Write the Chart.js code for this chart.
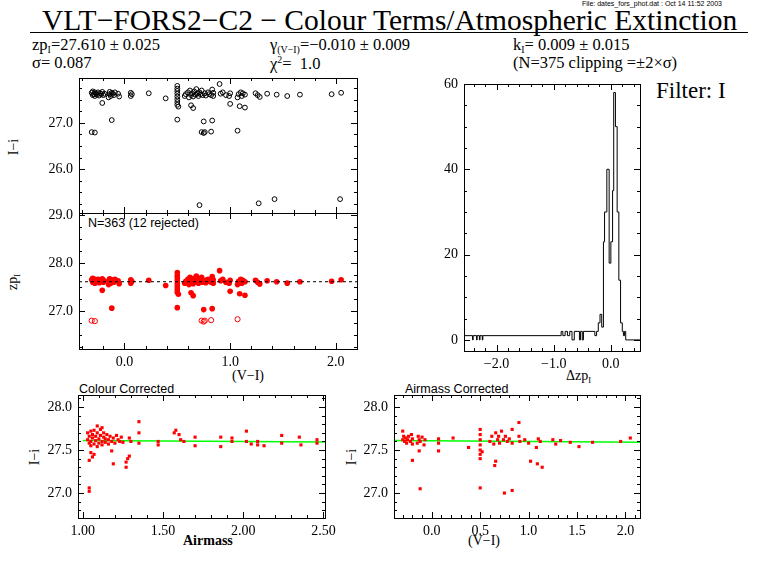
<!DOCTYPE html>
<html><head><meta charset="utf-8">
<script src="https://cdn.jsdelivr.net/npm/chart.js@4/dist/chart.umd.min.js"></script>
<style>
body{margin:0;background:#fff;width:768px;height:574px;position:relative;overflow:hidden;font-family:"Liberation Serif","DejaVu Serif",serif;color:#000}
.t{position:absolute;white-space:nowrap;line-height:1}
canvas{position:absolute}
sub{font-size:60%;vertical-align:-0.35em}
sup{font-size:60%;vertical-align:0.6em}
</style></head><body>
<div class="t" style="left:582px;top:0px;font:7px 'Liberation Sans',sans-serif">File: dates_fors_phot.dat : Oct 14 11:52 2003</div>
<div class="t" style="left:42px;top:6px;font-size:29.5px">VLT−FORS2−C2 − Colour Terms/Atmospheric Extinction</div>
<div style="position:absolute;left:30px;top:32px;width:718px;height:1px;background:#000"></div>
<div class="t" style="left:32px;top:37px;font-size:16.5px">zp<sub>I</sub>=27.610 ± 0.025</div>
<div class="t" style="left:32px;top:55px;font-size:16.5px">σ= 0.087</div>
<div class="t" style="left:270px;top:37px;font-size:16.5px">γ<sub>(V−I)</sub>=−0.010 ± 0.009</div>
<div class="t" style="left:270px;top:55px;font-size:16.5px">χ<sup>2</sup>=&nbsp; 1.0</div>
<div class="t" style="left:513px;top:37px;font-size:16.5px">k<sub>I</sub>= 0.009 ± 0.015</div>
<div class="t" style="left:513px;top:55px;font-size:16.5px">(N=375 clipping =±2×σ)</div>
<div class="t" style="left:656px;top:79px;font-size:23px">Filter: I</div>
<div class="t" style="left:88px;top:216px;font:12.5px 'Liberation Sans',sans-serif">N=363 (12 rejected)</div>
<div class="t" style="left:79px;top:382px;font:12.5px 'Liberation Sans',sans-serif">Colour Corrected</div>
<div class="t" style="left:405px;top:382px;font:12.5px 'Liberation Sans',sans-serif">Airmass Corrected</div>
<div class="t" style="left:232px;top:369px;font-size:14px">(V−I)</div>
<div class="t" style="left:566px;top:369px;font-size:14px">Δzp<sub>I</sub></div>
<div class="t" style="left:183px;top:534px;font-size:14px;font-weight:bold">Airmass</div>
<div class="t" style="left:468px;top:534px;font-size:14px">(V−I)</div>
<div class="t" style="left:14px;top:147px;font-size:14px;transform:translate(-50%,-50%) rotate(-90deg)">I−i</div>
<div class="t" style="left:14px;top:282px;font-size:14px;transform:translate(-50%,-50%) rotate(-90deg)">zp<sub>I</sub></div>
<div class="t" style="left:35px;top:457px;font-size:14px;transform:translate(-50%,-50%) rotate(-90deg)">I−i</div>
<div class="t" style="left:352px;top:457px;font-size:14px;transform:translate(-50%,-50%) rotate(-90deg)">I−i</div>
<script>
// ---- data ----
const goodVI=[-0.31,-0.30,-0.30,-0.29,-0.28,-0.28,-0.27,-0.26,-0.25,-0.24,-0.23,-0.22,-0.21,-0.20,-0.19,-0.15,-0.14,-0.14,-0.13,-0.12,-0.11,-0.10,-0.09,-0.06,-0.05,0.06,0.06,0.07,0.23,0.39,0.50,0.50,0.50,0.50,0.50,0.50,0.50,0.50,0.51,0.57,0.58,0.60,0.61,0.62,0.63,0.64,0.65,0.66,0.67,0.68,0.69,0.70,0.71,0.72,0.73,0.74,0.76,0.77,0.79,0.80,0.82,0.83,0.84,0.84,0.90,0.91,0.93,0.96,0.99,1.00,1.07,1.08,1.10,1.11,1.12,1.14,1.24,1.26,1.28,1.35,1.44,1.54,1.66,1.96,2.05,-0.21,-0.12,0.65,1.00,1.09,1.14,0.50,0.75,0.83,0.63];
const goodZP=[27.65,27.60,27.68,27.62,27.58,27.66,27.63,27.61,27.66,27.59,27.64,27.62,27.67,27.60,27.63,27.55,27.62,27.67,27.58,27.65,27.63,27.60,27.66,27.63,27.57,27.65,27.58,27.62,27.64,27.53,27.80,27.74,27.69,27.63,27.57,27.51,27.45,27.39,27.35,27.58,27.62,27.66,27.55,27.70,27.60,27.64,27.57,27.68,27.61,27.73,27.63,27.58,27.66,27.62,27.70,27.60,27.64,27.59,27.66,27.62,27.60,27.72,27.65,27.58,27.84,27.63,27.66,27.60,27.58,27.64,27.55,27.62,27.66,27.58,27.64,27.61,27.64,27.60,27.56,27.63,27.61,27.58,27.61,27.62,27.65,27.43,27.06,27.32,27.41,27.36,27.33,27.07,27.03,27.05,27.38];
const rejVI=[-0.31,-0.28,0.73,0.75,0.76,0.82,1.07,0.71,1.27,1.42,2.04];
const rejZP=[26.80,26.79,26.80,26.78,26.80,26.81,26.83,25.22,25.26,25.35,25.35];
const histEdge=[-2.57,-2.42,-2.41,-2.35,-2.34,-2.30,-2.29,-2.25,-2.24,-0.87,-0.84,-0.80,-0.76,-0.72,-0.68,-0.64,-0.55,-0.53,-0.50,-0.48,-0.28,-0.25,-0.22,-0.19,-0.16,-0.13,-0.11,-0.07,-0.03,0.00,0.03,0.05,0.08,0.11,0.14,0.17,0.20,0.22,0.24,0.26,0.29,0.51];
const histCount=[0,1,0,1,0,1,0,1,0,1,2,1,2,1,2,0,2,0,2,0,2,1,2,4,6,3,23,30,40,18,23,35,58,50,30,14,4,2,1,2,0,0];
const amX=[1.03,1.03,1.04,1.04,1.05,1.05,1.05,1.06,1.06,1.07,1.07,1.08,1.08,1.09,1.09,1.10,1.10,1.11,1.11,1.12,1.12,1.13,1.13,1.14,1.14,1.15,1.16,1.16,1.17,1.18,1.19,1.20,1.21,1.22,1.23,1.24,1.25,1.29,1.30,1.35,1.35,1.47,1.47,1.57,1.58,1.60,1.61,1.63,1.70,1.70,1.86,1.86,1.93,1.93,2.02,2.02,2.05,2.09,2.09,2.13,2.24,2.24,2.35,2.36,2.46,2.46,1.04,1.04,1.04,1.06,1.07,1.05,1.18,1.19,1.27,1.27,1.28,1.29,1.35,1.09,1.12];
const amY=[27.62,27.70,27.58,27.66,27.60,27.72,27.55,27.64,27.68,27.57,27.73,27.61,27.66,27.54,27.70,27.63,27.58,27.67,27.74,27.60,27.56,27.65,27.70,27.59,27.63,27.68,27.57,27.62,27.66,27.60,27.64,27.58,27.67,27.62,27.60,27.65,27.59,27.64,27.60,27.70,27.58,27.60,27.56,27.70,27.73,27.68,27.62,27.60,27.65,27.55,27.65,27.54,27.64,27.60,27.72,27.60,27.57,27.60,27.56,27.55,27.67,27.58,27.65,27.56,27.62,27.58,27.02,27.06,27.38,27.42,27.45,27.47,27.49,27.34,27.30,27.36,27.40,27.43,27.83,27.78,27.76];
const cVI=[-0.30,-0.30,-0.29,-0.28,-0.27,-0.26,-0.25,-0.24,-0.22,-0.21,-0.20,-0.20,-0.15,-0.14,-0.13,-0.12,-0.10,-0.08,-0.07,0.07,0.07,0.22,0.38,0.50,0.50,0.50,0.50,0.50,0.50,0.50,0.60,0.62,0.64,0.66,0.68,0.69,0.70,0.72,0.74,0.76,0.78,0.80,0.83,0.83,0.90,0.91,0.96,1.00,1.08,1.10,1.12,1.25,1.28,1.33,1.43,1.52,1.66,1.95,2.05,-0.20,-0.13,-0.12,0.07,0.50,0.65,0.66,0.75,0.83,0.90,1.02,1.09,1.14,0.52];
const cMag=[27.72,27.62,27.66,27.60,27.64,27.58,27.62,27.66,27.60,27.68,27.63,27.57,27.58,27.66,27.62,27.60,27.65,27.56,27.62,27.63,27.58,27.64,27.53,27.74,27.68,27.62,27.56,27.50,27.45,27.40,27.60,27.66,27.57,27.70,27.62,27.66,27.58,27.72,27.62,27.66,27.60,27.63,27.74,27.58,27.66,27.60,27.62,27.58,27.53,27.63,27.60,27.62,27.57,27.61,27.59,27.54,27.59,27.60,27.64,27.38,27.49,27.05,27.49,27.06,27.32,27.37,27.00,27.03,27.82,27.37,27.34,27.30,27.48];
const fitAm=[1.0,2.51], fitAmY=[27.61,27.595];
const fitVI=[-0.39,2.15], fitVIY=[27.612,27.592];
const zpLine=[27.61];
const ticksP1Y=[27,26], ticksP2Y=[29,28,27], ticksVI=[0,1,2], ticksHX=[-2,-1,0], ticksHY=[0,20,40,60];
const ticksAmX=[1.0,1.5,2.0,2.5], ticksMagY=[27.0,27.5,28.0], ticksCX=[0,0.5,1.0,1.5,2.0];

// ---- helpers ----
const YW=60,PT=12,PR=16,XH=30;
const frame={id:'frame',afterDatasetsDraw(c,a,o){
  const ctx=c.ctx,ca=c.chartArea,xs=c.scales.x,ys=c.scales.y;ctx.save();ctx.strokeStyle='#000';ctx.lineWidth=1;
  ctx.strokeRect(Math.round(ca.left)+0.5,Math.round(ca.top)+0.5,Math.round(ca.width),Math.round(ca.height));
  const tk=(scale,step,len,horiz)=>{const s=Math.ceil(scale.min/step-1e-6);for(let k=s;k*step<=scale.max+1e-6;k++){const p=Math.round(scale.getPixelForValue(k*step))+0.5;ctx.beginPath();
    if(horiz){ctx.moveTo(p,ca.bottom);ctx.lineTo(p,ca.bottom-len);ctx.moveTo(p,ca.top);ctx.lineTo(p,ca.top+len);}
    else{ctx.moveTo(ca.left,p);ctx.lineTo(ca.left+len,p);ctx.moveTo(ca.right,p);ctx.lineTo(ca.right-len,p);}ctx.stroke();}};
  tk(xs,o.xMinor,3,true);tk(xs,o.xMajor,6,true);tk(ys,o.yMinor,3,false);tk(ys,o.yMajor,6,false);ctx.restore();}};
Chart.register(frame);
function mk(l,t,r,b,xr,yr,xt,yt,fr,datasets,dec){
  const cv=document.createElement('canvas');const w=r-l,h=b-t;
  cv.style.left=(l-YW)+'px';cv.style.top=(t-PT)+'px';cv.style.width=(YW+w+PR)+'px';cv.style.height=(PT+h+XH)+'px';
  cv.width=YW+w+PR;cv.height=PT+h+XH;document.body.appendChild(cv);
  const font={family:"'Liberation Serif','DejaVu Serif',serif",size:14};
  new Chart(cv,{type:'scatter',data:{datasets},options:{responsive:false,animation:false,devicePixelRatio:1,
    layout:{padding:{top:PT,right:PR,left:0,bottom:0}},
    plugins:{legend:{display:false},tooltip:{enabled:false},frame:fr},
    scales:{
      x:{type:'linear',min:xr[0],max:xr[1],grid:{display:false,drawTicks:false,tickLength:0},border:{display:false},
        ticks:{display:xt!==null,color:'#000',font,padding:5,maxRotation:0,callback:v=>v.toFixed(dec[0]).replace('-','−')},
        afterBuildTicks:s=>{s.ticks=(xt||[]).map(v=>({value:v}))},
        afterFit:s=>{s.height=XH;s.paddingLeft=0;s.paddingRight=0}},
      y:{type:'linear',min:yr[0],max:yr[1],grid:{display:false,drawTicks:false,tickLength:0},border:{display:false},
        ticks:{color:'#000',font,padding:6,callback:v=>v.toFixed(dec[1])},
        afterBuildTicks:s=>{s.ticks=yt.map(v=>({value:v}))},
        afterFit:s=>{s.width=YW;s.paddingTop=0;s.paddingBottom=0}}}}});
}
const pts=(xs,ys)=>xs.map((x,i)=>({x,y:ys[i]}));
mk(79,78,357,213,[-0.43,2.2],[25.05,27.97],null,ticksP1Y,{xMajor:1,xMinor:0.2,yMajor:1,yMinor:0.25},
 [{data:pts(goodVI.concat(rejVI),goodZP.concat(rejZP)),pointStyle:'circle',pointRadius:2.4,borderColor:'#000',backgroundColor:'rgba(0,0,0,0)',borderWidth:1}],[1,1]);
mk(79,213,357,349,[-0.43,2.2],[26.21,29.04],ticksVI,ticksP2Y,{xMajor:1,xMinor:0.2,yMajor:1,yMinor:0.25},
 [{type:'line',data:[{x:-0.43,y:zpLine[0]},{x:2.2,y:zpLine[0]}],borderColor:'#000',borderWidth:1,borderDash:[3,3],pointRadius:0},
  {data:pts(goodVI,goodZP),pointRadius:2.8,borderWidth:0,backgroundColor:'#ff0000'},
  {data:pts(rejVI,rejZP),pointRadius:2.6,borderWidth:1,borderColor:'#ff0000',backgroundColor:'rgba(0,0,0,0)'}],[1,1]);
mk(464,84,640,351,[-2.57,0.51],[-2.6,60],ticksHX,ticksHY,{xMajor:1,xMinor:0.2,yMajor:20,yMinor:5},
 [{type:'line',data:pts(histEdge,histCount),stepped:'after',borderColor:'#000',borderWidth:1,pointRadius:0,fill:false}],[1,0]);
mk(78,395,325,518,[0.97,2.51],[26.71,28.14],ticksAmX,ticksMagY,{xMajor:0.5,xMinor:0.1,yMajor:0.5,yMinor:0.1},
 [{data:pts(amX,amY),pointStyle:'rect',pointRadius:2.2,borderWidth:0,backgroundColor:'#ff0000'},
  {type:'line',data:pts(fitAm,fitAmY),borderColor:'#00ff00',borderWidth:1.5,pointRadius:0}],[2,1]);
mk(394,395,640,518,[-0.39,2.15],[26.71,28.14],ticksCX,ticksMagY,{xMajor:0.5,xMinor:0.1,yMajor:0.5,yMinor:0.1},
 [{data:pts(cVI,cMag),pointStyle:'rect',pointRadius:2.2,borderWidth:0,backgroundColor:'#ff0000'},
  {type:'line',data:pts(fitVI,fitVIY),borderColor:'#00ff00',borderWidth:1.5,pointRadius:0}],[1,1]);
</script></body></html>
